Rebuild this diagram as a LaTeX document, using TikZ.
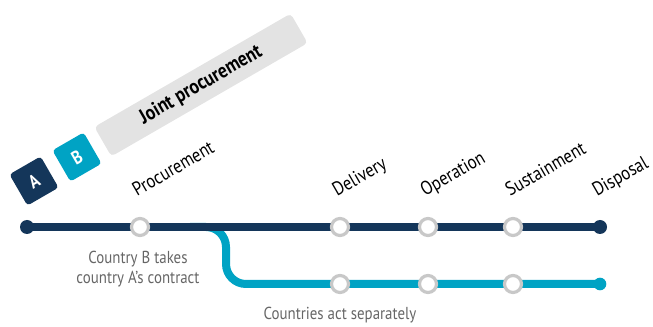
\documentclass[tikz,border=0pt]{standalone}
\usepackage{fontspec}
\setmainfont{PT Sans}[FakeStretch=0.86]
\definecolor{navy}{HTML}{14365A}
\definecolor{teal}{HTML}{00A3C4}
\definecolor{ring}{HTML}{C8C8C8}
\definecolor{panel}{HTML}{E3E3E3}
\definecolor{note}{HTML}{666666}
\tikzset{
  stop/.style={circle, draw=ring, line width=2.4pt, fill=white, minimum size=12.75pt, inner sep=0pt},
  terminus/.style={circle, fill=#1, minimum size=10.5pt, inner sep=0pt},
  badge/.style={rounded corners=2.5pt, fill=#1, minimum size=27pt, inner sep=0pt, rotate=30, text=white, font=\bfseries\fontsize{14}{16}\selectfont},
  stagename/.style={rotate=30, anchor=base west, inner sep=0pt, font=\fontsize{14.5}{16}\selectfont},
  caption/.style={text=note, align=center, font=\fontsize{13}{14.5}\selectfont}
}
\begin{document}
\begin{tikzpicture}[x=0.75pt, y=-0.75pt]
\useasboundingbox (0,0) rectangle (653,327);
% route points
\coordinate (start) at (27,227);
\coordinate (split) at (190,227);
\coordinate (end) at (600,227);
\coordinate (bend) at (226,227);
\coordinate (lowend) at (600,284);
% separate route goes under the joint one
\draw[teal, line width=6pt, rounded corners=15pt] (split) -| (bend |- lowend) -- (lowend);
\draw[navy, line width=6pt] (start) -- (end);
\node[terminus=navy] (a) at (start) {};
\node[terminus=navy] (e) at (end) {};
\node[terminus=teal, minimum size=9.5pt] (e2) at (lowend) {};
% stations
\node[stop] (p) at (140,227) {};
\node[stop] (d) at (340,227) {};
\node[stop] (o) at (428,227) {};
\node[stop] (s) at (513,227) {};
\node[stop] (d2) at (340,284) {};
\node[stop] (o2) at (428,284) {};
\node[stop] (s2) at (513,284) {};
% stage names
\node[stagename] (lp) at (137,197) {Procurement};
\node[stagename] (ld) at (337,197) {Delivery};
\node[stagename] (lo) at (425,197) {Operation};
\node[stagename] (ls) at (510,197) {Sustainment};
\node[stagename] (lx) at (597,197) {Disposal};
% notes
\node[caption] (n1) at (138,269) {Country B takes\\country A’s contract};
\node[caption] (n2) at (340,315) {Countries act separately};
% badges
\node[badge=navy] (ca) at (34,181) {A};
\node[badge=teal] (cb) at (77,157) {B};
\node[rounded corners=3pt, fill=panel, minimum width=170pt, minimum height=25.5pt, rotate=30, font=\bfseries\fontsize{15.5}{17}\selectfont] (jp) at (201,85) {Joint procurement};
\end{tikzpicture}
\end{document}
